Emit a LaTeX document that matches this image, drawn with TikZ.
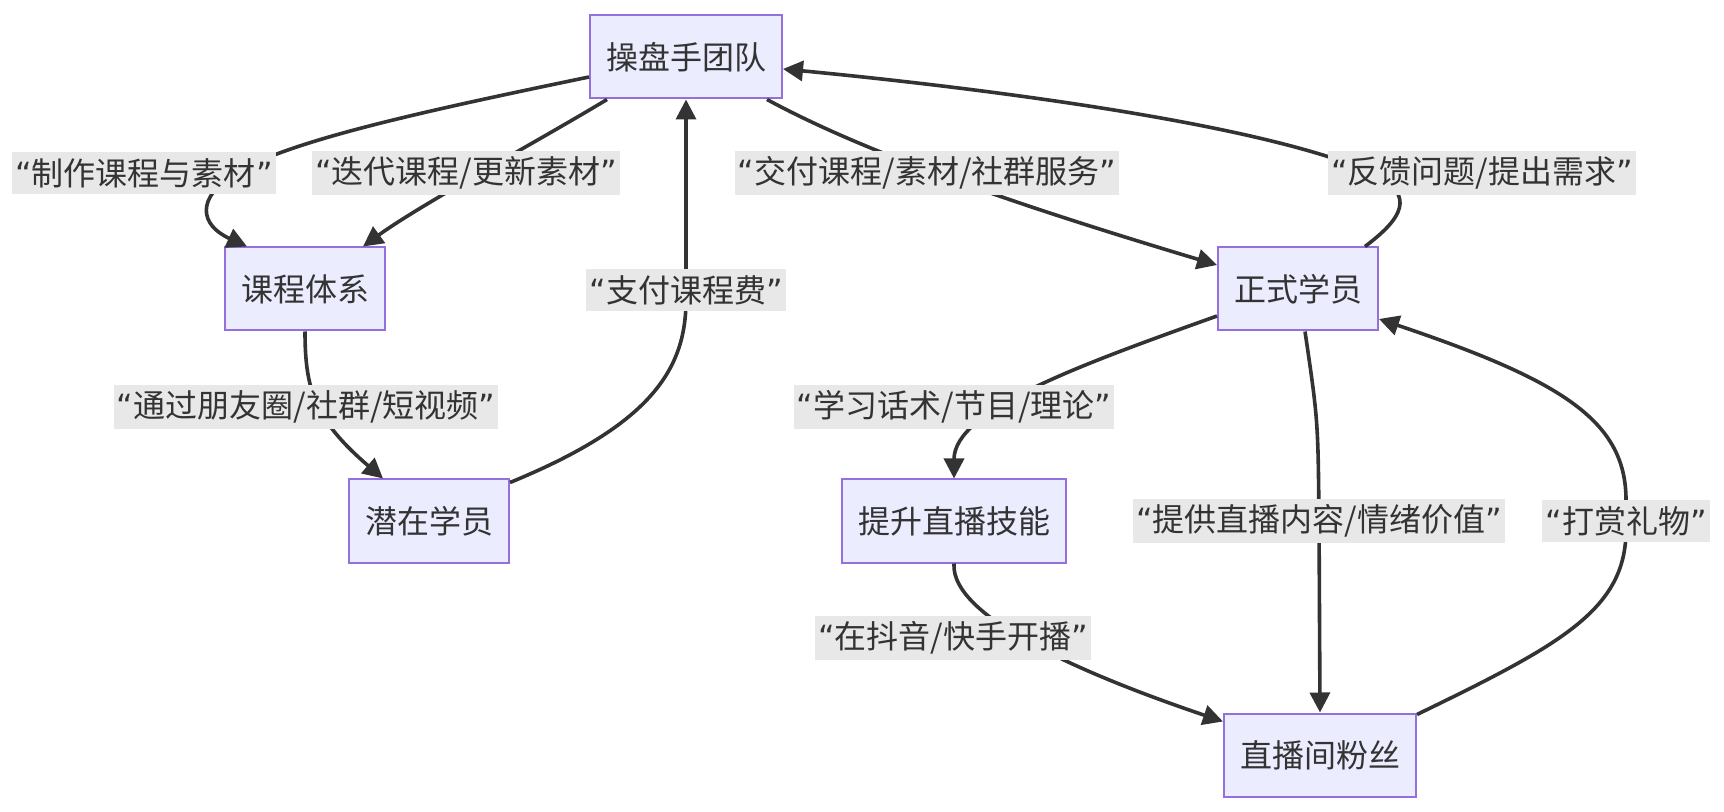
\documentclass[tikz,border=0pt]{standalone}
\usepackage{fontspec}
\setmainfont{Noto Sans CJK SC}
\newfontfamily\quotefont{DejaVu Sans}
\usetikzlibrary{arrows.meta, positioning}
\definecolor{nodefill}{HTML}{ECECFF}
\definecolor{nodeline}{HTML}{9370DB}
\definecolor{edgeline}{HTML}{333333}
\definecolor{labelbg}{HTML}{E8E8E8}
\newcommand{\quoted}[1]{{\quotefont “}#1{\quotefont ”}}

\begin{document}
\begin{tikzpicture}[
    x=0.5pt, y=-0.5pt,
    > = {Triangle[length=10pt, width=10pt]},
    box/.style={draw=nodeline, fill=nodefill, line width=1pt, minimum height=41.5pt, inner xsep=8pt, text=edgeline, font=\fontsize{16pt}{19pt}\selectfont},
    flow/.style={draw=edgeline, line width=1.8pt, ->},
    tag/.style={fill=labelbg, text=edgeline, inner xsep=1.5pt, inner ysep=3pt, font=\fontsize{16pt}{19pt}\selectfont}
]
    \useasboundingbox (0,0) rectangle (1724,812);

    % 1. Boxes
    \node[box] (team) at (686,57) {操盘手团队};
    \node[box] (course) at (305,289) {课程体系};
    \node[box] (prospect) at (429,521) {潜在学员};
    \node[box] (member) at (1298,289) {正式学员};
    \node[box] (skill) at (954,521) {提升直播技能};
    \node[box] (fans) at (1320,755) {直播间粉丝};

    % 2. Flows
    \draw[flow] ([yshift=-10pt]team.west) .. controls (430,110) and (290,140) .. (236,173)
        .. controls (195,198) and (200,225) .. ([xshift=-29pt]course.north);
    \draw[flow] ([xshift=9pt]team.south west) .. controls (540,140) and (420,205) .. ([xshift=29pt]course.north);
    \draw[flow] ([xshift=-8pt]team.south east) .. controls (860,150) and (1000,200) .. ([yshift=12pt]member.west);
    \draw[flow] ([xshift=-7pt]member.north east) .. controls (1400,220) and (1420,195) .. (1370,172)
        .. controls (1250,120) and (950,85) .. ([yshift=-6pt]team.east);
    \draw[flow] ([yshift=-2pt]prospect.north east) .. controls (650,425) and (686,370) .. (686,300) -- (team.south);
    \draw[flow] (course.south) .. controls (305,390) and (315,420) .. ([xshift=-23pt]prospect.north);
    \draw[flow] ([yshift=-13.5pt]member.west) .. controls (1080,365) and (954,410) .. (skill.north);
    \draw[flow] (skill.south) .. controls (950,620) and (1100,680) .. ([yshift=-4.5pt]fans.north west);
    \draw[flow] ([xshift=3.5pt]member.south) .. controls (1318,420) .. (1319,520) -- (fans.north);
    \draw[flow] ([yshift=-1pt]fans.north east) .. controls (1560,645) and (1626,610) .. (1626,530)
        -- (1626,500) .. controls (1626,420) and (1560,380) .. ([yshift=-15pt]member.east);

    % 3. Flow labels
    \node[tag] (tMake) at (144,173) {\quoted{制作课程与素材}};
    \node[tag] (tIterate) at (466,173) {\quoted{迭代课程/更新素材}};
    \node[tag] (tDeliver) at (927,173) {\quoted{交付课程/素材/社群服务}};
    \node[tag] (tFeedback) at (1482,173) {\quoted{反馈问题/提出需求}};
    \node[tag] (tPay) at (686,290) {\quoted{支付课程费}};
    \node[tag] (tReach) at (306,407) {\quoted{通过朋友圈/社群/短视频}};
    \node[tag] (tLearn) at (954,407) {\quoted{学习话术/节目/理论}};
    \node[tag] (tContent) at (1319,521) {\quoted{提供直播内容/情绪价值}};
    \node[tag] (tGift) at (1626,521) {\quoted{打赏礼物}};
    \node[tag] (tLive) at (953,638) {\quoted{在抖音/快手开播}};

\end{tikzpicture}
\end{document}
